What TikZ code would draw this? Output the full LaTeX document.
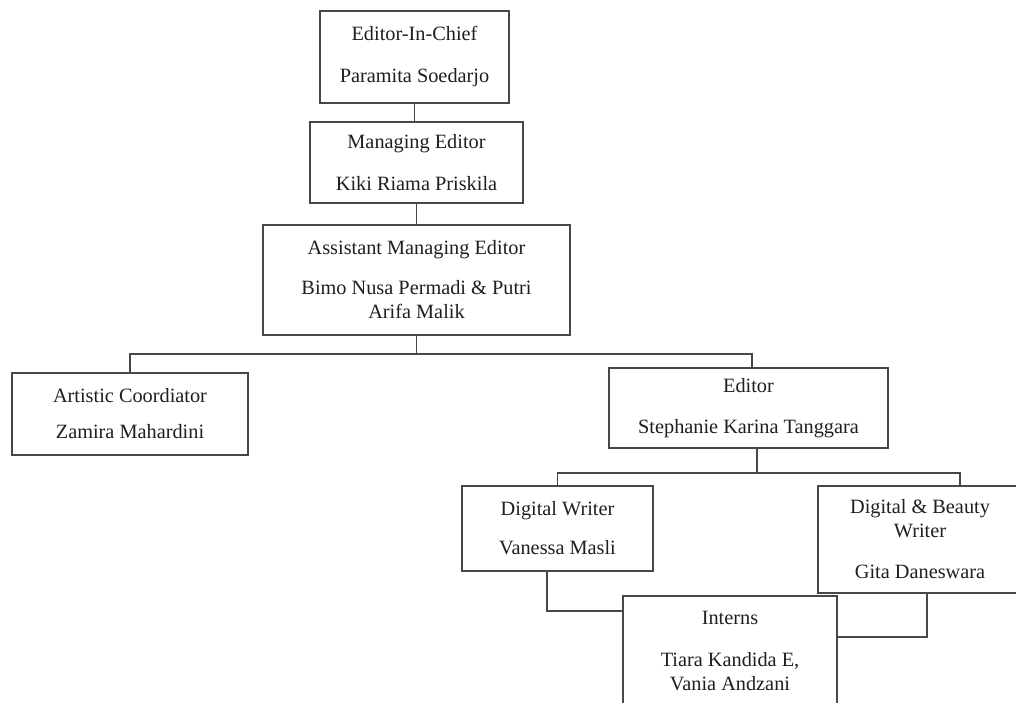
\documentclass[tikz,border=0pt]{standalone}
\usepackage{fontspec}
\setmainfont{Liberation Serif}
\begin{document}
\begin{tikzpicture}[x=1pt,y=-1pt,
  box/.style={draw=black!72, line width=1.3pt, rectangle, align=center, inner sep=0pt,
    text=black!88, font=\fontsize{20.3}{24}\selectfont},
  conn/.style={draw=black!72, line width=1.3pt}]
\useasboundingbox[fill=white] (0,0) rectangle (1016,702);

\node[box, minimum width=189pt, minimum height=92pt] (eic) at (414.5,57) {Editor-In-Chief\\[18pt]Paramita Soedarjo};
\node[box, minimum width=213pt, minimum height=81pt] (me) at (416.5,162.5) {Managing Editor\\[18pt]Kiki Riama Priskila};
\node[box, minimum width=307pt, minimum height=110pt] (ame) at (416.5,280) {Assistant Managing Editor\\[16pt]Bimo Nusa Permadi \& Putri\\Arifa Malik};
\node[box, minimum width=236pt, minimum height=82pt] (art) at (130,414) {Artistic Coordiator\\[12pt]Zamira Mahardini};
\node[box, minimum width=279pt, minimum height=80pt] (ed) at (748.5,408) {Editor\\[17pt]Stephanie Karina Tanggara};
\node[box, minimum width=191pt, minimum height=85pt] (dw) at (557.5,528.5) {Digital Writer\\[15pt]Vanessa Masli};
\node[box, minimum width=204pt, minimum height=107pt] (db) at (920,539.5) {Digital \& Beauty\\Writer\\[17pt]Gita Daneswara};
\node[box, minimum width=214pt, minimum height=110pt] (in) at (730,651) {Interns\\[18pt]Tiara Kandida E,\\Vania Andzani};

\coordinate (bus1) at (416.5,354);
\coordinate (bus2) at (757,473);
\coordinate (lvl1) at (0,611);
\coordinate (lvl2) at (0,637);

\draw[conn] (eic.south) -- (eic.south |- me.north);
\draw[conn] (me.south) -- (me.south |- ame.north);
\draw[conn] (ame.south) -- (bus1);
\draw[conn] (art.north) |- (bus1) -| ([xshift=3.5pt]ed.north);
\draw[conn] ([xshift=8.5pt]ed.south) -- (bus2);
\draw[conn] (dw.north) |- (bus2) -| ([xshift=40pt]db.north);
\draw[conn] ([xshift=-10.5pt]dw.south) |- (in.west |- lvl1);
\draw[conn] ([xshift=7pt]db.south) |- (in.east |- lvl2);
\end{tikzpicture}
\end{document}
